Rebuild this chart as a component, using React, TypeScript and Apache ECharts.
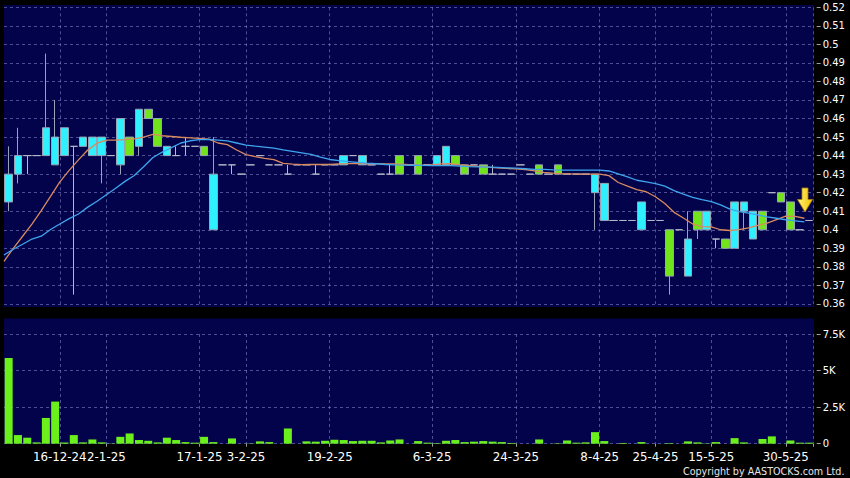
import React, { useEffect, useRef } from 'react';
import * as echarts from 'echarts';

const opens = [
  0.415, 0.43, 0.44, 0.44, 0.44, 0.435, 0.44, 0.445, 0.445, 0.44,
  0.44, 0.44, 0.435, 0.45, 0.445, 0.465, 0.46, 0.44, 0.44, 0.445,
  0.445, 0.445, 0.40, 0.435, 0.435, 0.43, 0.435, 0.44, 0.435, 0.435,
  0.43, 0.435, 0.435, 0.43, 0.435, 0.435, 0.435, 0.44, 0.435, 0.435,
  0.43, 0.43, 0.44, 0.435, 0.44, 0.435, 0.435, 0.435, 0.44, 0.435,
  0.435, 0.435, 0.43, 0.43, 0.43, 0.435, 0.43, 0.435, 0.43, 0.435,
  0.43, 0.43, 0.43, 0.42, 0.405, 0.405, 0.405, 0.405, 0.40, 0.405,
  0.405, 0.40, 0.40, 0.375, 0.41, 0.40, 0.395, 0.395, 0.39, 0.41,
  0.395, 0.41, 0.42, 0.42, 0.415, 0.40, 0.405,
];
const closes = [
  0.43, 0.44, 0.44, 0.44, 0.455, 0.45, 0.455, 0.445, 0.45, 0.45,
  0.45, 0.44, 0.46, 0.44, 0.465, 0.46, 0.445, 0.445, 0.44, 0.445,
  0.445, 0.44, 0.43, 0.435, 0.435, 0.43, 0.435, 0.44, 0.435, 0.435,
  0.43, 0.435, 0.435, 0.43, 0.435, 0.435, 0.44, 0.44, 0.44, 0.435,
  0.43, 0.43, 0.43, 0.435, 0.43, 0.435, 0.44, 0.445, 0.435, 0.43,
  0.435, 0.43, 0.43, 0.43, 0.43, 0.435, 0.43, 0.43, 0.43, 0.43,
  0.43, 0.43, 0.43, 0.43, 0.425, 0.405, 0.405, 0.405, 0.415, 0.405,
  0.405, 0.375, 0.40, 0.395, 0.40, 0.41, 0.395, 0.39, 0.415, 0.415,
  0.41, 0.40, 0.42, 0.415, 0.40, 0.40, 0.405,
];
const lows = [
  0.41, 0.425, 0.43, 0.44, 0.44, 0.435, 0.44, 0.365, 0.445, 0.44,
  0.425, 0.44, 0.43, 0.44, 0.44, 0.46, 0.445, 0.44, 0.44, 0.44,
  0.445, 0.44, 0.40, 0.435, 0.43, 0.43, 0.435, 0.44, 0.435, 0.435,
  0.43, 0.435, 0.435, 0.43, 0.435, 0.435, 0.435, 0.44, 0.435, 0.435,
  0.43, 0.43, 0.43, 0.435, 0.43, 0.435, 0.435, 0.435, 0.435, 0.43,
  0.435, 0.43, 0.43, 0.43, 0.43, 0.435, 0.43, 0.43, 0.43, 0.43,
  0.43, 0.43, 0.43, 0.40, 0.405, 0.405, 0.405, 0.405, 0.40, 0.405,
  0.405, 0.365, 0.40, 0.375, 0.395, 0.40, 0.39, 0.39, 0.39, 0.40,
  0.395, 0.40, 0.42, 0.415, 0.40, 0.40, 0.405,
];
const highs = [
  0.445, 0.455, 0.44, 0.44, 0.495, 0.47, 0.455, 0.445, 0.45, 0.45,
  0.45, 0.44, 0.46, 0.45, 0.465, 0.465, 0.46, 0.445, 0.445, 0.45,
  0.445, 0.445, 0.45, 0.435, 0.435, 0.43, 0.435, 0.44, 0.435, 0.435,
  0.435, 0.435, 0.435, 0.435, 0.435, 0.435, 0.44, 0.44, 0.44, 0.435,
  0.43, 0.435, 0.44, 0.435, 0.44, 0.435, 0.44, 0.445, 0.44, 0.435,
  0.435, 0.435, 0.435, 0.43, 0.43, 0.435, 0.43, 0.435, 0.43, 0.435,
  0.43, 0.43, 0.43, 0.43, 0.425, 0.405, 0.405, 0.405, 0.415, 0.405,
  0.405, 0.40, 0.40, 0.41, 0.41, 0.41, 0.395, 0.395, 0.415, 0.415,
  0.41, 0.41, 0.42, 0.42, 0.415, 0.40, 0.405,
];
const volumes = [
  5860, 590, 410, 90, 1760, 2880, 90, 590, 90, 290,
  90, 20, 470, 700, 250, 200, 90, 410, 250, 110,
  70, 470, 110, 0, 360, 0, 20, 160, 110, 0,
  1040, 0, 160, 140, 200, 270, 250, 180, 200, 200,
  90, 220, 290, 0, 180, 70, 40, 200, 250, 110,
  140, 180, 140, 110, 50, 0, 0, 290, 0, 30,
  220, 70, 90, 790, 180, 0, 50, 0, 110, 0,
  0, 40, 0, 160, 90, 20, 110, 0, 380, 90,
  0, 320, 500, 0, 220, 70, 70,
];
const maShort = [
  0.383, 0.390, 0.3965, 0.403, 0.4103, 0.418, 0.4258, 0.432, 0.4377, 0.443,
  0.4467, 0.4484, 0.4483, 0.4486, 0.449, 0.450, 0.4515, 0.4507, 0.4503, 0.4499,
  0.4496, 0.4493, 0.4489, 0.4468, 0.4459, 0.443, 0.4405, 0.4394, 0.4385, 0.4378,
  0.4358, 0.4354, 0.4351, 0.4352, 0.4352, 0.4353, 0.4355, 0.4357, 0.4358, 0.4357,
  0.4356, 0.4355, 0.4355, 0.4353, 0.435, 0.4347, 0.435, 0.4355, 0.4356, 0.435,
  0.4346, 0.4342, 0.4338, 0.4334, 0.4331, 0.4328, 0.4325, 0.4318, 0.431, 0.4306,
  0.4303, 0.4301, 0.43, 0.43, 0.43, 0.4292, 0.4255, 0.4235, 0.4217, 0.4205,
  0.4178, 0.4142, 0.4094, 0.4063, 0.4031, 0.4017, 0.4015, 0.40, 0.3996, 0.4001,
  0.401, 0.4024, 0.4036, 0.4055, 0.4074, 0.4072, 0.4062,
];
const maLong = [
  0.3864, 0.3895, 0.3922, 0.395, 0.3965, 0.4001, 0.4031, 0.406, 0.4085, 0.4122,
  0.4154, 0.4189, 0.4224, 0.4261, 0.4293, 0.434, 0.439, 0.4419, 0.4443, 0.4468,
  0.448, 0.4486, 0.4488, 0.4484, 0.4479, 0.4468, 0.4457, 0.4451, 0.4446, 0.444,
  0.4431, 0.4423, 0.4415, 0.4407, 0.4392, 0.4379, 0.4373, 0.4368, 0.4363, 0.4359,
  0.4356, 0.4352, 0.435, 0.4349, 0.4348, 0.4347, 0.4346, 0.4346, 0.4346, 0.4343,
  0.434, 0.4339, 0.4338, 0.4336, 0.4334, 0.4332, 0.4329, 0.4326, 0.4326, 0.4323,
  0.4322, 0.4322, 0.4322, 0.4322, 0.4322, 0.4317, 0.4301, 0.4285, 0.4267, 0.4258,
  0.4249, 0.4235, 0.4211, 0.4192, 0.4175, 0.4162, 0.4152, 0.4134, 0.4111, 0.4098,
  0.409, 0.408, 0.4069, 0.4062, 0.4054, 0.4048, 0.4042,
];
const tickIndex = [6, 11, 21, 26, 35, 46, 55, 64, 70, 76, 84];
const tickText = ['16-12-24', '2-1-25', '17-1-25', '3-2-25', '19-2-25', '6-3-25', '24-3-25', '8-4-25', '25-4-25', '15-5-25', '30-5-25'];

const NAVY = '#03034c';
const GRID_LINE = 'rgba(140,140,210,0.55)';
const UP = '#2ef0ff';
const DOWN = '#72e41c';
const FONT = 'DejaVu Sans';

export default function App() {
  const ref = useRef<HTMLDivElement>(null);
  useEffect(() => {
    if (!ref.current) return;
    const chart = echarts.init(ref.current, null, { renderer: 'svg' });
    const cats = opens.map((_, i) => String(i));
    const lineCats = cats.concat([String(cats.length)]);
    const isTick = (i: number) => tickIndex.indexOf(i) >= 0;
    const candles = opens.map((o, i) => [o, closes[i], lows[i], highs[i]]);
    const splitV = {
      show: true,
      interval: (i: number) => isTick(i),
      lineStyle: { color: GRID_LINE, type: [3, 3], width: 1 },
    };
    const splitH = { show: true, lineStyle: { color: GRID_LINE, type: [3, 3], width: 1 } };
    const option: any = {
      animation: false,
      backgroundColor: '#000000',
      grid: [
        { left: 4, top: 7.3, width: 809.7, height: 296.6 },
        { left: 4, top: 334, width: 809.7, height: 109.7 },
      ],
      graphic: [
        { type: 'rect', z: -10, shape: { x: 4, y: 5, width: 810, height: 302 }, style: { fill: NAVY } },
        { type: 'rect', z: -10, shape: { x: 4, y: 318.5, width: 810, height: 125.5 }, style: { fill: NAVY } },
        {
          type: 'polygon', z: 100,
          shape: { points: [[802, 188], [808, 188], [808, 199.5], [812.5, 199.5], [805, 212], [797.5, 199.5], [802, 199.5]] },
          style: {
            fill: new echarts.graphic.LinearGradient(0, 0, 1, 0, [
              { offset: 0, color: '#fff27a' },
              { offset: 1, color: '#f2c200' },
            ]),
            stroke: '#b08400', lineWidth: 0.8,
          },
        },
        {
          type: 'text', z: 100, x: 844.5, y: 471,
          style: { text: 'Copyright by AASTOCKS.com Ltd.', fill: '#e6e6e6', fontSize: 9.6, fontFamily: FONT, align: 'right', verticalAlign: 'middle' },
        },
      ],
      xAxis: [
        {
          type: 'category', gridIndex: 0, data: cats, boundaryGap: true,
          axisLine: { show: false }, axisTick: { show: false }, axisLabel: { show: false },
          splitLine: splitV,
        },
        {
          type: 'category', gridIndex: 1, data: cats, boundaryGap: true, offset: 3,
          axisLine: { show: false },
          axisTick: { show: true, length: 3, interval: (i: number) => isTick(i), lineStyle: { color: '#a0a0a0' } },
          axisLabel: {
            show: true, interval: (i: number) => isTick(i),
            formatter: (_v: string, i: number) => {
              const k = tickIndex.indexOf(i);
              return k >= 0 ? tickText[k] : '';
            },
            color: '#ffffff', fontSize: 11.8, fontFamily: FONT, margin: 4, padding: [0, 9.3, 0, 0],
          },
          splitLine: splitV,
        },
        {
          type: 'category', gridIndex: 0, data: lineCats, boundaryGap: false, show: false,
        },
      ],
      yAxis: [
        {
          type: 'value', gridIndex: 0, position: 'right', min: 0.36, max: 0.52, interval: 0.01, offset: 3,
          axisLine: { show: false },
          axisTick: { show: true, length: 4, lineStyle: { color: '#a0a0a0' } },
          axisLabel: { color: '#ffffff', fontSize: 10, fontFamily: FONT, margin: 6 },
          splitLine: splitH,
        },
        {
          type: 'value', gridIndex: 1, position: 'right', min: 0, max: 7500, interval: 2500, offset: 3,
          axisLine: { show: false },
          axisTick: { show: true, length: 4, lineStyle: { color: '#a0a0a0' } },
          axisLabel: {
            color: '#ffffff', fontSize: 10, fontFamily: FONT, margin: 6,
            formatter: (v: number) => (v === 0 ? '0' : v / 1000 + 'K'),
          },
          splitLine: splitH,
        },
      ],
      series: [
        {
          type: 'candlestick', xAxisIndex: 0, yAxisIndex: 0, data: candles, barWidth: 8,
          itemStyle: {
            color: UP, color0: DOWN,
            borderColor: '#98a4b6', borderColor0: '#98a4b6', borderColorDoji: '#b4b8c8',
            borderWidth: 1,
          },
        },
        {
          type: 'line', xAxisIndex: 2, yAxisIndex: 0, data: maShort, symbol: 'none',
          lineStyle: { color: '#d88a5e', width: 1.3 }, z: 3,
        },
        {
          type: 'line', xAxisIndex: 2, yAxisIndex: 0, data: maLong, symbol: 'none',
          lineStyle: { color: '#3fa6ee', width: 1.3 }, z: 3,
        },
        {
          type: 'bar', xAxisIndex: 1, yAxisIndex: 1, data: volumes, barWidth: 8,
          itemStyle: { color: '#6cf01c' },
        },
      ],
    };
    chart.setOption(option);
    return () => chart.dispose();
  }, []);
  return (
    <div
      ref={ref}
      style={{ position: 'fixed', left: 0, top: 0, width: 850, height: 478, background: '#000' }}
    />
  );
}
